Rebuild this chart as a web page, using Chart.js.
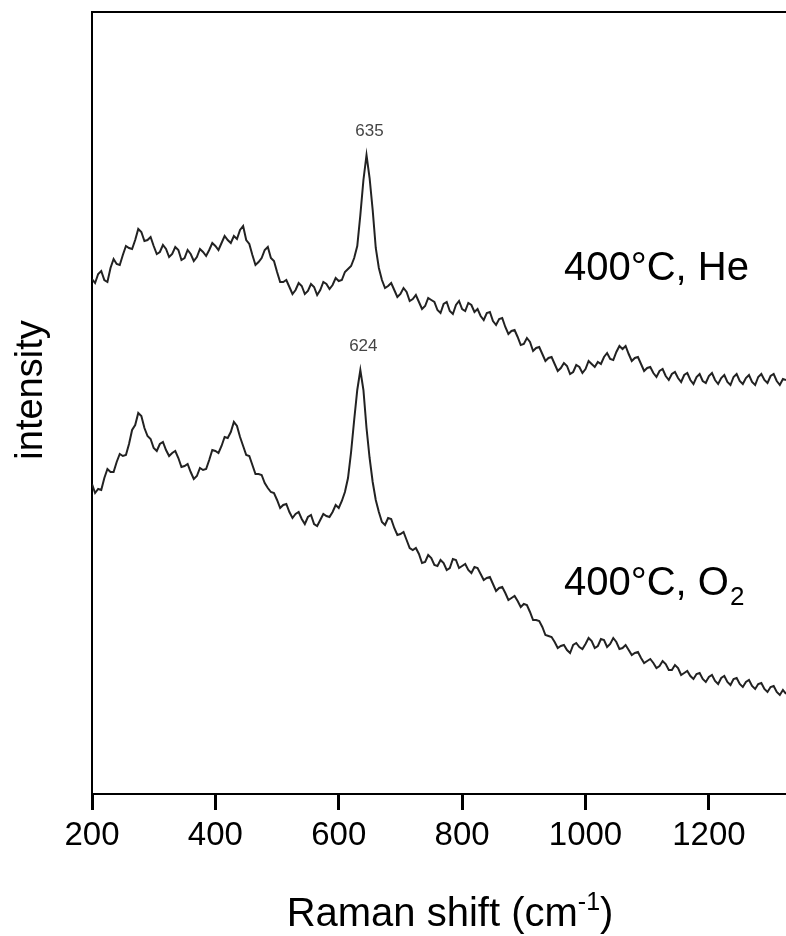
<!DOCTYPE html>
<html>
<head>
<meta charset="utf-8">
<script src="https://cdn.jsdelivr.net/npm/chart.js@4.4.1/dist/chart.umd.min.js"></script>
<style>
  html, body { margin: 0; padding: 0; background: #fff; }
  #wrap { width: 786px; height: 936px; }
</style>
</head>
<body>
<div id="wrap"><canvas id="ramanChart" width="786" height="936"></canvas></div>
<script>
// Raman shift (cm-1) for every sampled point
var shifts = [
  200,205,210,215,220,225,230,235,240,245,250,255,260,265,270,275,280,285,290,295,
  300,305,310,315,320,325,330,335,340,345,350,355,360,365,370,375,380,385,390,395,
  400,405,410,415,420,425,430,435,440,445,450,455,460,465,470,475,480,485,490,495,
  500,505,510,515,520,525,530,535,540,545,550,555,560,565,570,575,580,585,590,595,
  600,605,610,615,620,625,630,635,640,645,650,655,660,665,670,675,680,685,690,695,
  700,705,710,715,720,725,730,735,740,745,750,755,760,765,770,775,780,785,790,795,
  800,805,810,815,820,825,830,835,840,845,850,855,860,865,870,875,880,885,890,895,
  900,905,910,915,920,925,930,935,940,945,950,955,960,965,970,975,980,985,990,995,
  1000,1005,1010,1015,1020,1025,1030,1035,1040,1045,1050,1055,1060,1065,1070,1075,1080,1085,1090,1095,
  1100,1105,1110,1115,1120,1125,1130,1135,1140,1145,1150,1155,1160,1165,1170,1175,1180,1185,1190,1195,
  1200,1205,1210,1215,1220,1225,1230,1235,1240,1245,1250,1255,1260,1265,1270,1275,1280,1285,1290,1295,
  1300,1305,1310,1315,1320,1325
];

// intensity (a.u.), 400°C He
var heIntensity = [
  515,511,520,523,514,512,526,535,530,529,539,548,546,545,554,565,562,553,554,557,
  548,540,542,549,545,537,540,547,544,534,536,544,540,533,537,545,542,538,544,551,
  548,544,551,558,554,551,558,555,564,568,554,550,539,529,532,536,544,547,536,533,
  522,512,512,514,507,500,504,511,508,500,503,510,507,499,504,512,510,505,509,516,
  513,514,522,525,528,536,548,579,614,639,616,584,546,526,514,506,508,511,504,497,
  500,506,502,493,495,499,492,485,488,496,494,492,484,481,490,492,483,480,489,493,
  485,483,491,489,482,485,478,474,481,482,473,469,475,476,467,460,463,464,457,449,
  450,456,452,443,446,447,440,433,436,437,430,423,426,431,428,420,422,429,427,421,
  425,433,430,427,432,430,437,441,435,434,442,448,445,448,440,433,436,437,430,423,
  426,427,421,417,423,425,418,414,420,422,416,412,419,421,414,410,417,420,413,411,
  418,421,414,410,416,419,412,409,417,420,413,410,416,419,412,409,417,420,414,411,
  418,420,413,409,415,414
];

// intensity (a.u.), 400°C O2
var o2Intensity = [
  310,301,305,304,316,325,322,322,332,340,338,339,350,364,369,381,378,366,358,355,
  346,343,350,352,344,338,341,343,336,327,328,330,322,315,318,326,324,325,334,344,
  343,341,348,357,356,362,372,368,357,348,339,338,329,320,320,319,311,306,302,301,
  294,286,289,290,282,276,280,282,275,270,277,279,270,268,274,280,278,277,282,289,
  286,293,302,316,342,374,404,424,404,366,336,312,294,282,272,269,276,275,266,259,
  260,262,254,246,244,246,240,231,232,239,236,229,228,234,231,224,226,235,234,226,
  228,230,224,221,227,226,220,214,216,217,210,203,206,207,201,194,196,198,193,187,
  190,189,182,174,174,173,167,159,158,157,152,146,148,149,144,141,149,151,147,145,
  150,156,153,146,148,155,154,147,150,156,152,145,146,149,144,139,141,142,136,131,
  133,135,131,126,128,133,130,124,124,129,126,119,121,123,118,115,120,121,115,112,
  117,119,113,110,116,118,112,109,115,116,110,107,112,114,108,105,110,111,105,102,
  107,108,102,99,104,100
];

var xTicks = [200, 400, 600, 800, 1000, 1200];
var peakLabels = ['635', '624'];

var FONT = "'Liberation Sans', Arial, Helvetica, sans-serif";
var ink = '#222';

function toPoints(ys) {
  return shifts.map(function(s, i) { return {x: s, y: ys[i]}; });
}

// titles, series names and peak positions drawn on top of the chart
var annotate = {
  id: 'annotate',
  afterDraw: function(chart) {
    var ctx = chart.ctx, xs = chart.scales.x, ys = chart.scales.y, area = chart.chartArea;
    ctx.save();

    // peak labels above the strongest point of each trace
    ctx.font = '17px ' + FONT;
    ctx.fillStyle = '#444';
    ctx.textAlign = 'center';
    ctx.textBaseline = 'middle';
    chart.data.datasets.forEach(function(ds, i) {
      var best = -1;
      ds.data.forEach(function(p, j) {
        if (p.x > 550 && p.x < 750 && (best < 0 || p.y > ds.data[best].y)) best = j;
      });
      var px = xs.getPixelForValue(ds.data[best].x);
      var py = ys.getPixelForValue(ds.data[best].y);
      ctx.fillText(peakLabels[i], px + 3, py - 24);
    });

    // series names
    ctx.fillStyle = '#000';
    ctx.textAlign = 'left';
    ctx.textBaseline = 'alphabetic';
    ctx.font = '40px ' + FONT;
    var lx = xs.getPixelForValue(965);
    ctx.fillText('400°C, He', lx, ys.getPixelForValue(514));
    var oy = ys.getPixelForValue(199);
    ctx.fillText('400°C, O', lx, oy);
    var w = ctx.measureText('400°C, O').width;
    ctx.font = '26px ' + FONT;
    ctx.fillText('2', lx + w + 1, oy + 10);

    // x axis title with superscript
    var big = '40px ' + FONT, small = '25px ' + FONT;
    ctx.font = big;
    var w1 = ctx.measureText('Raman shift (cm').width;
    var w3 = ctx.measureText(')').width;
    ctx.font = small;
    var w2 = ctx.measureText('-1').width;
    var tx = area.left + 358 - (w1 + w2 + w3) / 2, ty = 926;
    ctx.font = big;
    ctx.fillText('Raman shift (cm', tx, ty);
    ctx.font = small;
    ctx.fillText('-1', tx + w1, ty - 16);
    ctx.font = big;
    ctx.fillText(')', tx + w1 + w2, ty);

    // y axis title
    ctx.translate(32, (area.top + area.bottom) / 2 - 13);
    ctx.rotate(-Math.PI / 2);
    ctx.textAlign = 'center';
    ctx.textBaseline = 'middle';
    ctx.font = '38px ' + FONT;
    ctx.fillText('intensity', 0, 0);
    ctx.restore();
  }
};

var ctx = document.getElementById('ramanChart').getContext('2d');

var ramanChart = new Chart(ctx, {
  type: 'line',
  data: {
    datasets: [{
      label: '400°C, He',
      data: toPoints(heIntensity),
      borderColor: ink,
      borderWidth: 2,
      pointRadius: 0,
      tension: 0,
      fill: false
    }, {
      label: '400°C, O2',
      data: toPoints(o2Intensity),
      borderColor: ink,
      borderWidth: 2,
      pointRadius: 0,
      tension: 0,
      fill: false
    }]
  },
  options: {
    responsive: false,
    animation: false,
    layout: { padding: { top: 12, right: 0, left: 0, bottom: 0 } },
    plugins: { legend: { display: false }, tooltip: { enabled: false } },
    scales: {
      x: {
        type: 'linear',
        min: 200,
        max: 1325,
        afterBuildTicks: function(scale) {
          scale.ticks = xTicks.map(function(v) { return {value: v}; });
        },
        afterFit: function(scale) { scale.height = 142; },
        border: { display: true, color: '#000', width: 2 },
        grid: { drawOnChartArea: false, drawTicks: true, tickLength: 16, tickWidth: 3, color: '#000' },
        ticks: {
          autoSkip: false,
          maxRotation: 0,
          padding: 6,
          color: '#000',
          font: { family: FONT, size: 33 },
          callback: function(v) { return String(v); }
        }
      },
      xTop: {
        type: 'linear',
        position: 'top',
        min: 200,
        max: 1325,
        afterFit: function(scale) { scale.height = 0; },
        border: { display: true, color: '#000', width: 2 },
        grid: { display: false, drawTicks: false },
        ticks: { display: false }
      },
      y: {
        min: 0,
        max: 782,
        afterFit: function(scale) { scale.width = 92; },
        border: { display: true, color: '#000', width: 2 },
        grid: { drawOnChartArea: false, drawTicks: false },
        ticks: { display: false }
      }
    }
  },
  plugins: [annotate]
});
</script>
</body>
</html>
